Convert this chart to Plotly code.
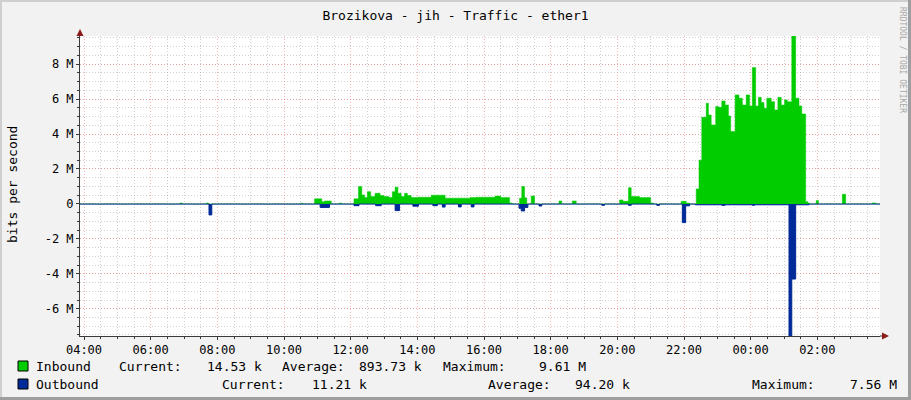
import plotly.graph_objects as go
from datetime import datetime, timedelta

# ---------------- data (values in Mbit/s, step changes at the given times) -------------
in_times = ["03:45", "06:53", "06:57", "07:40", "07:44", "10:30", "10:34",
            "10:55", "11:08", "11:13", "11:25", "11:40", "11:44",
            "12:06", "12:14", "12:20", "12:25", "12:30", "12:36", "12:44", "12:53",
            "13:00", "13:09", "13:15", "13:20", "13:25", "13:31", "13:37", "13:42",
            "13:49", "14:00", "14:25", "14:50", "15:35", "15:45", "16:20", "16:30",
            "16:46", "16:51", "17:04", "17:08", "17:13", "17:17", "17:25", "17:31",
            "18:15", "18:20", "18:39", "18:46",
            "20:04", "20:10", "20:20", "20:25", "20:40", "21:00", "21:05",
            "21:55", "22:04", "22:10",
            "22:22", "22:27", "22:32", "22:40", "22:44", "22:49", "22:57", "23:02",
            "23:08", "23:14", "23:20", "23:24", "23:32", "23:39", "23:45", "23:52",
            "23:58", "00:03", "00:09", "00:14", "00:19", "00:24", "00:29", "00:37",
            "00:43", "00:49", "00:55", "01:01", "01:06", "01:14", "01:21", "01:27",
            "01:32", "01:39", "01:43", "01:46",
            "01:58", "02:02", "02:45", "02:51", "03:38", "03:46", "03:55"]
in_vals = [0.0, 0.05, 0.0, 0.05, 0.0, 0.04, 0.0,
           0.29, 0.12, 0.17, 0.0, 0.05, 0.0,
           0.29, 0.99, 0.51, 0.36, 0.70, 0.42, 0.61, 0.48,
           0.42, 0.36, 0.70, 0.96, 0.61, 0.42, 0.61, 0.48,
           0.36, 0.38, 0.50, 0.33, 0.36, 0.38, 0.45, 0.36,
           0.05, 0.0, 0.33, 0.99, 0.35, 0.0, 0.45, 0.0,
           0.17, 0.0, 0.17, 0.0,
           0.23, 0.15, 0.93, 0.42, 0.36, 0.05, 0.0,
           0.15, 0.05, 0.0,
           0.86, 2.50, 4.96, 5.76, 5.09, 4.52, 5.57, 5.53,
           5.89, 5.66, 5.03, 4.14, 6.24, 6.05, 5.66, 6.24,
           5.60, 7.80, 5.60, 6.10, 5.80, 5.47, 6.05, 5.85,
           5.38, 6.10, 5.66, 5.95, 5.85, 9.61, 6.05, 5.60,
           5.15, 0.13, 0.05, 0.0,
           0.19, 0.0, 0.55, 0.0, 0.05, 0.0, 0.0]

out_times = ["03:45", "07:45", "07:50", "11:05", "11:22", "12:06", "12:15",
             "12:45", "12:55", "13:20", "13:28", "13:52", "14:02", "14:28", "14:36",
             "14:45", "14:50", "15:14", "15:19", "15:37", "15:42",
             "17:03", "17:07", "17:13", "17:19", "17:39", "17:44",
             "19:32", "19:37", "20:20", "20:25", "21:11", "21:16",
             "21:57", "22:03", "22:10", "22:20", "23:08", "23:14",
             "00:03", "00:07", "01:09", "01:14", "01:21", "01:45", "03:55"]
out_vals = [-0.01, -0.63, -0.01, -0.20, -0.01, -0.10, -0.01,
            -0.10, -0.01, -0.38, -0.01, -0.13, -0.01, -0.10, -0.01,
            -0.18, -0.01, -0.17, -0.01, -0.17, -0.01,
            -0.25, -0.40, -0.20, -0.01, -0.12, -0.01,
            -0.08, -0.01, -0.08, -0.01, -0.08, -0.01,
            -1.07, -0.11, -0.01, -0.05, -0.08, -0.05,
            -0.08, -0.05, -7.56, -4.30, -0.05, -0.01, -0.01]

y_tick_vals = [-6, -4, -2, 0, 2, 4, 6, 8]
y_tick_text = ["-6 M", "-4 M", "-2 M", "0", "2 M", "4 M", "6 M", "8 M"]

title_text = "Brozikova - jih - Traffic - ether1"
series_names = ["Inbound", "Outbound"]
stat_current = ["14.53 k", "11.21 k"]
stat_average = ["893.73 k", "94.20 k"]
stat_maximum = ["9.61 M", "7.56 M"]

GREEN = "#00CC00"
BLUE = "#002A97"
MONO = "DejaVu Sans Mono"

# ---------------- helpers ----------------
BASE = datetime(2024, 1, 1)


def to_dt(times):
    out, day, prev = [], 0, None
    for t in times:
        h, m = map(int, t.split(":"))
        mins = h * 60 + m
        if prev is not None and mins < prev:
            day += 1
        prev = mins
        out.append(BASE + timedelta(days=day, minutes=mins))
    return out


x_start = BASE + timedelta(hours=3, minutes=52, seconds=48)
x_end = x_start + timedelta(days=1)

# plot area in pixels
L, R, T, B = 80, 880, 36, 336
W, H = 911, 400


def px(x):
    return (x - L) / (R - L)


def py(y):
    return (B - y) / (B - T)


fig = go.Figure()
fig.add_trace(go.Scatter(x=to_dt(in_times), y=[v * 1e6 for v in in_vals],
                         mode="lines", line=dict(shape="hv", width=0.5, color=GREEN),
                         fill="tozeroy", fillcolor=GREEN, name=series_names[0],
                         hoverinfo="skip"))
fig.add_trace(go.Scatter(x=to_dt(out_times), y=[v * 1e6 for v in out_vals],
                         mode="lines", line=dict(shape="hv", width=1, color=BLUE),
                         fill="tozeroy", fillcolor=BLUE, name=series_names[1],
                         hoverinfo="skip"))

grid_major = "rgba(245,120,120,0.55)"
grid_minor = "rgba(150,150,150,0.45)"
axis_col = "#3a3a3a"

fig.update_layout(
    width=W, height=H, autosize=False,
    margin=dict(l=L, r=W - R, t=T, b=H - B, pad=0),
    paper_bgcolor="#F2F2F2", plot_bgcolor="#FFFFFF",
    showlegend=False,
    title=dict(text=title_text, x=0.5, xref="container", xanchor="center",
               y=1 - 15 / H, yref="container", yanchor="middle",
               font=dict(family=MONO, size=13, color="#000000")),
    xaxis=dict(type="date", range=[x_start, x_end], tickformat="%H:%M",
               dtick=7200000, tick0=BASE + timedelta(hours=4),
               showgrid=True, gridcolor=grid_major, griddash="1px,2px", gridwidth=1,
               showline=True, linecolor=axis_col, linewidth=1,
               ticks="outside", ticklen=3, tickcolor=axis_col,
               tickfont=dict(family=MONO, size=12, color="#000000"),
               minor=dict(dtick=1800000, tick0=BASE + timedelta(hours=4),
                          showgrid=True, gridcolor=grid_minor, griddash="1px,2px",
                          ticks="outside", ticklen=2, tickcolor=axis_col),
               zeroline=False, fixedrange=True),
    yaxis=dict(range=[-7.56e6, 9.61e6],
               tickvals=[v * 1e6 for v in y_tick_vals], ticktext=y_tick_text,
               showgrid=True, gridcolor=grid_major, griddash="1px,2px", gridwidth=1,
               showline=True, linecolor=axis_col, linewidth=1,
               ticks="outside", ticklen=3, tickcolor=axis_col,
               tickfont=dict(family=MONO, size=12, color="#000000"),
               minor=dict(dtick=0.5e6, tick0=0, showgrid=True, gridcolor=grid_minor,
                          griddash="1px,2px", ticks="outside", ticklen=2,
                          tickcolor=axis_col),
               zeroline=False, fixedrange=True),
)

shapes = []
# axis arrows
arrow_col = "#8B1A1A"
shapes.append(dict(type="path", xref="paper", yref="paper",
                   path=f"M {px(L-3.5)} {py(T)} L {px(L+3.5)} {py(T)} L {px(L)} {py(T-7)} Z",
                   fillcolor=arrow_col, line=dict(width=0)))
shapes.append(dict(type="line", xref="paper", yref="paper",
                   x0=px(R), x1=px(R + 3), y0=0, y1=0, line=dict(color=axis_col, width=1)))
shapes.append(dict(type="path", xref="paper", yref="paper",
                   path=f"M {px(R+2)} {py(B-3.5)} L {px(R+2)} {py(B+3.5)} L {px(R+9)} {py(B)} Z",
                   fillcolor=arrow_col, line=dict(width=0)))
# 3D frame
shapes.append(dict(type="rect", xref="paper", yref="paper", x0=px(0), x1=px(W), y0=py(0), y1=py(2),
                   fillcolor="#CFCFCF", line=dict(width=0), layer="below"))
shapes.append(dict(type="rect", xref="paper", yref="paper", x0=px(0), x1=px(2), y0=py(0), y1=py(H),
                   fillcolor="#CFCFCF", line=dict(width=0), layer="below"))
shapes.append(dict(type="rect", xref="paper", yref="paper", x0=px(W - 3), x1=px(W), y0=py(0), y1=py(H),
                   fillcolor="#9E9E9E", line=dict(width=0), layer="below"))
shapes.append(dict(type="rect", xref="paper", yref="paper", x0=px(0), x1=px(W), y0=py(H - 3), y1=py(H),
                   fillcolor="#9E9E9E", line=dict(width=0), layer="below"))
# legend swatches
for i, col in enumerate([GREEN, BLUE]):
    yc = 366 + 18 * i
    shapes.append(dict(type="rect", xref="paper", yref="paper",
                       x0=px(18), x1=px(28), y0=py(yc - 5), y1=py(yc + 5),
                       fillcolor=col, line=dict(color="#000000", width=1)))
fig.update_layout(shapes=shapes)

ann = []
ann.append(dict(text="bits per second", xref="paper", yref="paper", x=px(12), y=py(185),
                textangle=-90, showarrow=False, xanchor="center", yanchor="middle",
                font=dict(family=MONO, size=13, color="#000000")))
ann.append(dict(text="RRDTOOL / TOBI OETIKER", xref="paper", yref="paper", x=px(902), y=py(60),
                textangle=90, showarrow=False, xanchor="center", yanchor="middle",
                font=dict(family=MONO, size=8, color="#A8A8A8")))

# legend rows: label / value start positions in pixels
row_pos = [
    [34, 117, 205, 280, 357, 441, 537],
    [34, 220, 310, 486, 573, 750, 848],
]
for i in range(2):
    yc = 366 + 18 * i
    p = row_pos[i]
    items = [(p[0], series_names[i]), (p[1], "Current:"), (p[2], stat_current[i]),
             (p[3], "Average:"), (p[4], stat_average[i]), (p[5], "Maximum:"),
             (p[6], stat_maximum[i])]
    for xx, txt in items:
        ann.append(dict(text=txt, xref="paper", yref="paper", x=px(xx), y=py(yc),
                        showarrow=False, xanchor="left", yanchor="middle",
                        font=dict(family=MONO, size=13, color="#000000")))
fig.update_layout(annotations=ann)

fig.write_html("out.html", config={"displayModeBar": False, "staticPlot": True},
               post_script="document.body.style.margin='0';document.body.style.overflow='hidden';")
